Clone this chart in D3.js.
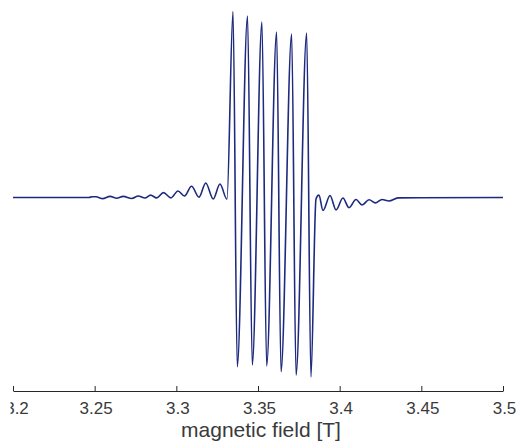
<!DOCTYPE html>
<html>
<head>
<meta charset="utf-8">
<script src="https://cdn.jsdelivr.net/npm/d3@7"></script>
<style>
  html, body { margin: 0; padding: 0; background: #ffffff; }
  svg { display: block; }
</style>
</head>
<body>
<svg id="chart" width="521" height="444"></svg>
<script>
// magnetic field values (T) of the traced curve vertices
const field = [
  3.2000, 3.2465, 3.2484, 3.2508, 3.2549, 3.2594, 3.2635, 3.2675, 3.2727, 3.2767,
  3.2808, 3.2842, 3.2880, 3.2921, 3.2967, 3.3010, 3.3050, 3.3093, 3.3139, 3.3180,
  3.3226, 3.3267, 3.3310, 3.3347, 3.3373, 3.3436, 3.3465, 3.3524, 3.3553, 3.3614,
  3.3641, 3.3706, 3.3733, 3.3798, 3.3824, 3.3855, 3.3873, 3.3898, 3.3941, 3.3978,
  3.4020, 3.4057, 3.4100, 3.4137, 3.4180, 3.4219, 3.4259, 3.4302, 3.4357, 3.5000
];
// EPR derivative signal (arbitrary units)
const signal = [
  0.0, 0.0, 0.4, 0.4, -0.6, 0.6, -0.4, 0.6, -0.5, 0.8,
  -0.3, 1.3, -0.2, 2.6, -0.2, 3.5, 0.8, 6.0, 0.2, 7.8,
  -0.8, 7.2, -0.9, 99.7, -90.7, 97.3, -89.8, 94.1, -90.3, 88.7,
  -93.4, 87.7, -95.2, 88.2, -96.2, -0.8, 1.3, -7.0, 1.1, -6.7,
  -0.3, -5.4, -1.1, -4.0, -1.2, -2.9, -1.1, -1.9, -0.2, 0.0
];
const tickValues = [3.2, 3.25, 3.3, 3.35, 3.4, 3.45, 3.5];
const tickLabels = ["3.2", "3.25", "3.3", "3.35", "3.4", "3.45", "3.5"];
const xLabel = "magnetic field [T]";

const svg = d3.select("#chart");
svg.append("rect").attr("width", 521).attr("height", 444).attr("fill", "#ffffff");

// the reference picture is cropped at its left edge
svg.append("defs").append("clipPath").attr("id", "crop")
  .append("rect").attr("x", 10.5).attr("y", 0).attr("width", 510.5).attr("height", 444);

const root = svg.append("g").attr("clip-path", "url(#crop)");

const x = d3.scaleLinear().domain([3.2, 3.5]).range([13, 503]);
const y = d3.scaleLinear().domain([-100, 100]).range([384, 11]);

const data = field.map((f, i) => ({ f: f, s: signal[i] }));

const line = d3.line()
  .x(d => x(d.f))
  .y(d => y(d.s))
  .curve(d3.curveMonotoneX);

root.append("path")
  .datum(data)
  .attr("fill", "none")
  .attr("stroke", "#1d2a7e")
  .attr("stroke-width", 1.6)
  .attr("stroke-linejoin", "round")
  .attr("d", line);

const axis = d3.axisBottom(x)
  .tickValues(tickValues)
  .tickFormat((d, i) => tickLabels[i])
  .tickSize(-5)
  .tickSizeOuter(0)
  .tickPadding(10.5);

const gx = root.append("g")
  .attr("transform", "translate(0,391)")
  .call(axis);

gx.select(".domain").attr("stroke", "#262626").attr("stroke-width", 1);
gx.selectAll(".tick line").attr("stroke", "#262626").attr("stroke-width", 1);
gx.selectAll(".tick text")
  .attr("fill", "#3a3a3a")
  .attr("dx", (d, i) => (i === 0 ? 3.5 : 1))
  .style("font-family", "'Liberation Sans', Arial, sans-serif")
  .style("font-size", "17px");

root.append("text")
  .attr("x", 261)
  .attr("y", 437)
  .attr("text-anchor", "middle")
  .attr("fill", "#3a3a3a")
  .style("font-family", "'Liberation Sans', Arial, sans-serif")
  .style("font-size", "21px")
  .text(xLabel);
</script>
</body>
</html>
